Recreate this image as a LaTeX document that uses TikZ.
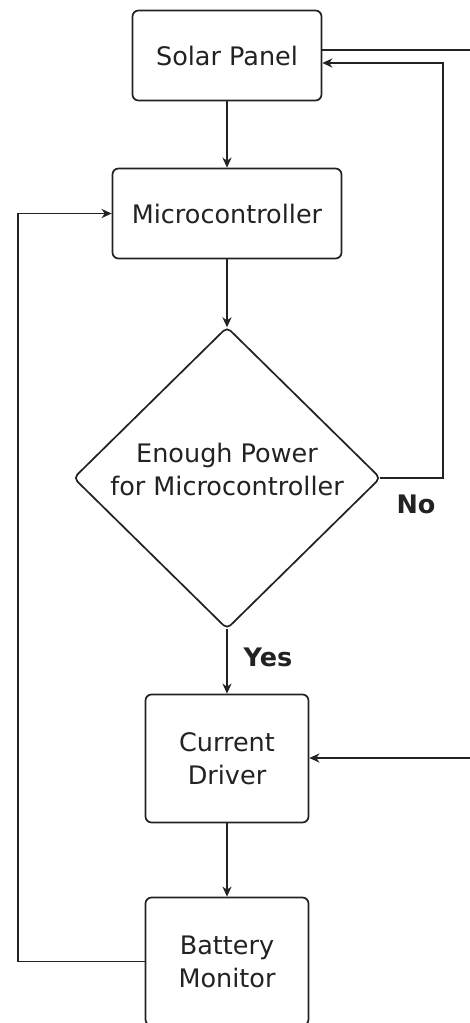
\documentclass[tikz,border=0pt]{standalone}
\usepackage{fontspec}
\setmainfont{DejaVu Sans}
\usetikzlibrary{shapes.geometric,arrows.meta}
\definecolor{ink}{HTML}{222222}
\tikzset{
  box/.style={draw=ink, line width=1.7pt, rounded corners=6pt, fill=white,
    align=center, text=ink, inner sep=0pt,
    font=\fontsize{25.5}{33}\selectfont},
  decision/.style={diamond, inner sep=0pt},
  dtext/.style={align=center, text=ink, inner sep=0pt,
    font=\fontsize{25.5}{33}\selectfont},
  conn/.style={draw=ink, line width=1.7pt},
  arr/.style={conn, -{Stealth[length=10pt,width=9pt,inset=3pt]}},
  lbl/.style={text=ink, font=\fontsize{25.5}{33}\selectfont\bfseries, inner sep=0pt},
}
\begin{document}
\begin{tikzpicture}[x=1pt,y=-1pt]
\useasboundingbox (0,0) rectangle (470,1023);
\clip (0,0) rectangle (470,1023);
\fill[white] (0,0) rectangle (470,1023);

\node[box, minimum width=189pt, minimum height=90pt] (sp) at (227,55.5) {Solar Panel};
\node[box, minimum width=229pt, minimum height=90pt] (mc) at (227,213.5) {Microcontroller};
\node[decision, minimum width=306pt, minimum height=301pt] (dia) at (227,478) {};
\draw[draw=ink, line width=1.7pt, rounded corners=5pt]
  (dia.north) -- (dia.east) -- (dia.south) -- (dia.west) -- cycle;
\node[dtext] (diatxt) at (227,469) {Enough Power\\for Microcontroller};
\node[box, minimum width=163pt, minimum height=128pt] (cd) at (227,758.5) {Current\\Driver};
\node[box, minimum width=163pt, minimum height=128pt] (bm) at (227,961.5) {Battery\\Monitor};

\coordinate (rt) at (443,63);
\coordinate (r1) at (472,50);
\coordinate (r2) at (472,758);
\coordinate (lft) at (18,600);

\draw[arr] (sp.south) -- (mc.north);
\draw[arr] (mc.south) -- (dia.north);
\draw[arr] (dia.east) -| (rt) -- (sp.east |- rt);
\draw[conn] (sp.east |- r1) -- (r1);
\draw[arr] (dia.south) -- (cd.north);
\draw[arr] (r2) -- (cd.east |- r2);
\draw[arr] (cd.south) -- (bm.north);
\draw[arr] (bm.west) -| (lft) |- (mc.west);

\node[lbl] (no) at (416,504) {No};
\node[lbl] (yes) at (268,657) {Yes};
\end{tikzpicture}
\end{document}
